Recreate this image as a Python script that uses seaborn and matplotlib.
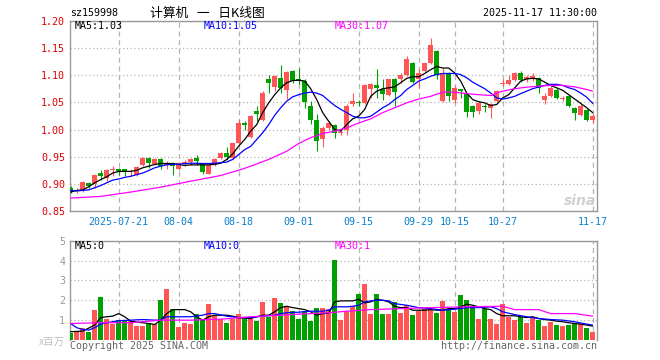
import numpy as np
import pandas as pd
import matplotlib
matplotlib.use("Agg")
import matplotlib.pyplot as plt
import seaborn as sns

# daily candles, 2025-07-09 .. 2025-11-17 (88 sessions)
opens = [0.893, 0.887, 0.888, 0.901, 0.899, 0.920, 0.910, 0.925, 0.927, 0.927,
         0.921, 0.917, 0.934, 0.948, 0.937, 0.945, 0.934, 0.939, 0.928, 0.939,
         0.940, 0.947, 0.936, 0.919, 0.934, 0.947, 0.956, 0.947, 0.976, 1.012,
         0.987, 1.034, 1.018, 1.092, 1.078, 1.095, 1.0735, 1.107, 1.092, 1.090,
         1.043, 1.018, 0.982, 1.003, 1.009, 0.994, 1.000, 1.046, 1.050, 1.049,
         1.075, 1.081, 1.074, 1.063, 1.093, 1.092, 1.101, 1.123, 1.092, 1.107,
         1.123, 1.144, 1.052, 1.104, 1.055, 1.074, 1.066, 1.043, 1.034, 1.044,
         1.040, 1.052, 1.083, 1.083, 1.091, 1.104, 1.092, 1.092, 1.095, 1.054,
         1.0625, 1.0735, 1.0555, 1.0625, 1.040, 1.026, 1.0355, 1.018]
highs = [0.896, 0.892, 0.905, 0.904, 0.919, 0.926, 0.928, 0.933, 0.929, 0.928,
         0.928, 0.933, 0.950, 0.950, 0.948, 0.947, 0.943, 0.941, 0.940, 0.944,
         0.948, 0.953, 0.938, 0.936, 0.947, 0.958, 0.968, 0.977, 1.020, 1.016,
         1.027, 1.043, 1.070, 1.101, 1.101, 1.118, 1.107, 1.110, 1.113, 1.092,
         1.052, 1.028, 1.006, 1.015, 1.011, 1.000, 1.047, 1.067, 1.054, 1.083,
         1.086, 1.112, 1.092, 1.093, 1.095, 1.104, 1.136, 1.125, 1.112, 1.124,
         1.1685, 1.147, 1.113, 1.106, 1.080, 1.075, 1.068, 1.045, 1.052, 1.046,
         1.048, 1.072, 1.092, 1.101, 1.106, 1.107, 1.101, 1.104, 1.097, 1.067,
         1.080, 1.076, 1.061, 1.064, 1.042, 1.046, 1.037, 1.0276]
lows = [0.884, 0.883, 0.885, 0.893, 0.893, 0.908, 0.906, 0.915, 0.917, 0.914,
        0.915, 0.915, 0.932, 0.930, 0.934, 0.928, 0.927, 0.917, 0.926, 0.933,
        0.935, 0.935, 0.918, 0.918, 0.932, 0.945, 0.944, 0.945, 0.974, 1.000,
        0.984, 1.015, 1.015, 1.067, 1.070, 1.067, 1.056, 1.085, 1.083, 1.040,
        1.010, 0.960, 0.967, 0.999, 0.985, 0.990, 0.990, 1.044, 1.044, 1.047,
        1.058, 1.058, 1.055, 1.061, 1.043, 1.086, 1.099, 1.086, 1.076, 1.105,
        1.120, 1.092, 1.050, 1.052, 1.049, 1.058, 1.023, 1.023, 1.028, 1.032,
        1.0215, 1.050, 1.080, 1.081, 1.089, 1.087, 1.087, 1.089, 1.067, 1.046,
        1.060, 1.056, 1.0515, 1.041, 1.018, 1.024, 1.016, 1.012]
closes = [0.887, 0.889, 0.903, 0.896, 0.917, 0.915, 0.926, 0.926, 0.924, 0.921,
          0.922, 0.931, 0.948, 0.939, 0.946, 0.932, 0.937, 0.932, 0.9375, 0.941,
          0.946, 0.943, 0.921, 0.934, 0.945, 0.956, 0.949, 0.975, 1.012, 1.008,
          1.024, 1.029, 1.067, 1.085, 1.099, 1.077, 1.105, 1.089, 1.089, 1.050,
          1.018, 0.979, 1.003, 1.012, 0.994, 0.996, 1.044, 1.052, 1.048, 1.081,
          1.083, 1.077, 1.065, 1.092, 1.069, 1.101, 1.129, 1.087, 1.104, 1.123,
          1.156, 1.101, 1.104, 1.061, 1.077, 1.071, 1.032, 1.032, 1.049, 1.042,
          1.046, 1.070, 1.086, 1.0906, 1.104, 1.091, 1.096, 1.099, 1.077, 1.0625,
          1.077, 1.058, 1.0565, 1.043, 1.031, 1.044, 1.017, 1.024]
volumes = [0.37, 0.42, 0.62, 0.40, 1.50, 2.15, 1.05, 0.83, 1.00, 1.00,
           0.95, 0.70, 0.70, 0.88, 0.83, 2.00, 2.55, 1.57, 0.67, 0.88,
           0.80, 1.30, 1.08, 1.83, 1.25, 1.05, 0.87, 1.08, 1.30, 1.05,
           1.05, 0.97, 1.90, 1.17, 2.12, 1.85, 1.70, 1.45, 1.08, 1.45,
           0.97, 1.60, 1.60, 1.58, 4.05, 1.03, 1.45, 1.70, 2.30, 2.80,
           1.30, 2.30, 1.30, 1.30, 1.90, 1.35, 1.78, 1.25, 1.45, 1.57,
           1.50, 1.35, 1.97, 1.58, 1.40, 2.25, 2.00, 1.70, 1.05, 1.55,
           1.05, 0.80, 1.80, 1.17, 1.00, 1.17, 0.87, 1.17, 1.00, 0.72,
           0.92, 0.75, 0.72, 0.77, 0.83, 0.80, 0.62, 0.42]

# moving averages as drawn on the chart
ma5 = [0.885, 0.888, 0.889, 0.8947, 0.902, 0.908, 0.913, 0.920, 0.923, 0.923,
       0.923, 0.925, 0.9296, 0.9326, 0.9357, 0.9375, 0.9375, 0.9375, 0.9357, 0.934,
       0.935, 0.935, 0.935, 0.935, 0.936, 0.938, 0.945, 0.955, 0.9695, 0.9816,
       0.997, 1.009, 1.031, 1.049, 1.064, 1.0766, 1.086, 1.090, 1.0906, 1.089,
       1.075, 1.055, 1.031, 1.015, 1.000, 0.997, 1.009, 1.0196, 1.0245, 1.037,
       1.061, 1.0705, 1.075, 1.0766, 1.0784, 1.086, 1.094, 1.097, 1.097, 1.103,
       1.110, 1.116, 1.113, 1.113, 1.104, 1.089, 1.067, 1.055, 1.051, 1.049,
       1.044, 1.046, 1.058, 1.064, 1.0766, 1.089, 1.093, 1.094, 1.093, 1.087,
       1.081, 1.0766, 1.072, 1.064, 1.056, 1.048, 1.040, 1.031]
ma10 = [0.888, 0.887, 0.888, 0.889, 0.893, 0.897, 0.902, 0.907, 0.909, 0.912,
        0.914, 0.917, 0.920, 0.9246, 0.9296, 0.9326, 0.935, 0.936, 0.936, 0.9375,
        0.938, 0.938, 0.9375, 0.9375, 0.938, 0.939, 0.940, 0.945, 0.954, 0.963,
        0.969, 0.9816, 0.994, 1.009, 1.026, 1.040, 1.052, 1.060, 1.064, 1.067,
        1.0686, 1.067, 1.0625, 1.053, 1.044, 1.037, 1.031, 1.0245, 1.0215, 1.0215,
        1.0245, 1.032, 1.040, 1.046, 1.055, 1.0625, 1.0735, 1.081, 1.089, 1.093,
        1.098, 1.101, 1.103, 1.103, 1.103, 1.101, 1.095, 1.087, 1.081, 1.075,
        1.067, 1.058, 1.056, 1.058, 1.061, 1.066, 1.0705, 1.075, 1.078, 1.081,
        1.083, 1.083, 1.081, 1.0766, 1.0735, 1.067, 1.0594, 1.048]
ma30_idx = [0, 5, 10, 15, 20, 25, 28, 30, 33, 36, 38, 40, 42, 44, 46, 48, 50, 52,
            54, 56, 58, 60, 62, 64, 66, 68, 70, 72, 74, 76, 78, 80, 82, 84, 86, 87]
ma30 = [0.874, 0.877, 0.885, 0.894, 0.905, 0.9154, 0.925, 0.9326, 0.945, 0.960,
        0.9743, 0.985, 0.9926, 0.997, 1.003, 1.012, 1.0196, 1.031, 1.040, 1.049,
        1.056, 1.061, 1.0686, 1.0686, 1.066, 1.064, 1.0625, 1.0705, 1.075, 1.0778,
        1.0797, 1.081, 1.081, 1.0784, 1.0735, 1.0705]

vma5 = [0.42, 0.43, 0.45, 0.60, 0.75, 1.13, 1.17, 1.20, 1.33, 1.17,
        0.95, 0.90, 0.87, 0.83, 0.78, 1.00, 1.33, 1.53, 1.53, 1.53,
        1.42, 1.17, 1.00, 1.17, 1.25, 1.25, 1.25, 1.20, 1.12, 1.10,
        1.08, 1.17, 1.25, 1.25, 1.42, 1.63, 1.70, 1.63, 1.58, 1.53,
        1.42, 1.25, 1.33, 1.35, 1.92, 1.97, 1.97, 1.97, 2.05, 1.87,
        1.92, 2.05, 2.00, 1.92, 1.70, 1.63, 1.63, 1.50, 1.50, 1.50,
        1.53, 1.50, 1.50, 1.58, 1.58, 1.67, 1.80, 1.75, 1.67, 1.58,
        1.53, 1.33, 1.22, 1.22, 1.22, 1.17, 1.13, 1.17, 1.08, 1.03,
        1.00, 0.95, 0.92, 0.87, 0.83, 0.80, 0.75, 0.70]
vma10_idx = [0, 1, 2, 3, 4, 5, 6, 8, 10, 12, 14, 15, 16, 18, 20, 22, 23, 24, 26,
             28, 30, 32, 34, 35, 36, 38, 40, 42, 43, 44, 46, 47, 48, 49, 50, 51,
             52, 53, 54, 56, 58, 60, 62, 64, 66, 68, 70, 71, 72, 74, 76, 78, 80,
             82, 84, 86, 87]
vma10 = [0.83, 0.62, 0.53, 0.50, 0.62, 0.80, 0.87, 0.97, 1.00, 1.03, 1.00, 1.00,
         1.17, 1.17, 1.17, 1.25, 1.33, 1.33, 1.20, 1.13, 1.13, 1.20, 1.25, 1.33,
         1.37, 1.40, 1.45, 1.45, 1.50, 1.67, 1.67, 1.70, 1.75, 1.92, 1.97, 2.00,
         2.00, 1.97, 1.83, 1.75, 1.63, 1.58, 1.50, 1.55, 1.63, 1.63, 1.67, 1.58,
         1.42, 1.28, 1.17, 1.08, 1.03, 1.00, 0.92, 0.80, 0.75]
vma30_idx = [0, 5, 10, 15, 20, 25, 30, 35, 40, 43, 46, 50, 55, 60, 66, 72, 74,
             78, 80, 84, 87]
vma30 = [0.83, 0.87, 0.87, 1.00, 1.00, 1.05, 1.17, 1.25, 1.33, 1.37, 1.45, 1.53,
         1.58, 1.63, 1.67, 1.70, 1.53, 1.53, 1.33, 1.33, 1.20]

tick_idx = [8, 18, 28, 38, 48, 58, 64, 72, 87]
tick_labels = ["2025-07-21", "08-04", "08-18", "09-01", "09-15",
               "09-29", "10-15", "10-27", "11-17"]
price_ticks = [0.85, 0.90, 0.95, 1.00, 1.05, 1.10, 1.15, 1.20]
vol_ticks = [1, 2, 3, 4, 5]

RED = "#ff5555"
GREEN = "#00a000"
GRID = "#b4b4b4"
MONO = ["DejaVu Sans Mono"]
CJK = ["Noto Sans CJK SC", "DejaVu Sans"]

sns.set_style("white")
plt.rcParams["font.family"] = MONO

W, H = 660, 360
fig = plt.figure(figsize=(W / 100, H / 100), dpi=100)

def fx(x):
    return x / W

def fy(y):
    return 1 - y / H

ax = fig.add_axes([fx(70), fy(211.1), (597.3 - 70) / W, (211.1 - 20.7) / H])
axv = fig.add_axes([fx(70), fy(340), (597.3 - 70) / W, (340 - 240.7) / H])

x = np.arange(len(closes))
o, hi, lo, c = map(np.array, (opens, highs, lows, closes))
cols = np.where(c >= o, RED, GREEN)

# candles
ax.vlines(x, lo, hi, colors=cols, linewidth=0.8, zorder=3)
ax.bar(x, np.maximum(np.abs(c - o), 0.0016), bottom=np.minimum(o, c),
       width=0.78, color=cols, linewidth=0, zorder=4)

df = pd.DataFrame({"i": x, "ma5": ma5, "ma10": ma10})
sns.lineplot(data=df, x="i", y="ma5", ax=ax, color="black", linewidth=0.9, zorder=5)
sns.lineplot(data=df, x="i", y="ma10", ax=ax, color="#0000ff", linewidth=0.9, zorder=5)
sns.lineplot(x=ma30_idx, y=ma30, ax=ax, color="#ff00ff", linewidth=0.9, zorder=5)

# volume
axv.bar(x, volumes, width=0.82, color=cols, linewidth=0, zorder=3)
vdf = pd.DataFrame({"i": x, "vma5": vma5})
sns.lineplot(data=vdf, x="i", y="vma5", ax=axv, color="black", linewidth=0.9, zorder=5)
sns.lineplot(x=vma10_idx, y=vma10, ax=axv, color="#0000ff", linewidth=0.9, zorder=5)
sns.lineplot(x=vma30_idx, y=vma30, ax=axv, color="#ff00ff", linewidth=0.9, zorder=5)

xlim = ((70 - 70.7) / 6, (597.3 - 70.7) / 6)
for a in (ax, axv):
    a.set_xlim(*xlim)
    a.set_xlabel("")
    a.set_ylabel("")
    a.set_xticks(tick_idx)
    a.tick_params(length=0)
    a.xaxis.grid(True, color=GRID, linestyle=(0, (4, 3)), linewidth=0.9)
    a.yaxis.grid(True, color=GRID, linestyle=(0, (1, 2)), linewidth=0.9)
    a.set_axisbelow(True)
    for s in a.spines.values():
        s.set_color("#999999")
        s.set_linewidth(1.0)

ax.set_ylim(0.85, 1.20)
ax.set_yticks(price_ticks)
ax.set_yticklabels([f"{p:.2f}" for p in price_ticks], color="#e00000", fontsize=7.2)
ax.set_xticklabels(tick_labels, color="#0a80cc", fontsize=7.2)
ax.tick_params(axis="y", pad=3.5)
ax.tick_params(axis="x", pad=4)

axv.set_ylim(0, 5)
axv.set_yticks(vol_ticks)
axv.set_yticklabels([str(v) for v in vol_ticks], color="#999999", fontsize=7.2)
axv.set_xticklabels([])
axv.tick_params(axis="y", pad=3.5)
axv.spines["bottom"].set_visible(False)

# header
fig.text(fx(70), fy(13.5), "sz159998", fontsize=7.2, color="black", va="center")
fig.text(fx(207), fy(13.5), "计算机   一   日K线图", fontsize=9.2, family=CJK,
         color="black", ha="center", va="center")
fig.text(fx(597), fy(13.5), "2025-11-17 11:30:00", fontsize=7.2,
         color="black", ha="right", va="center")

# moving-average legends
for yy, vals in ((26, ("1.03", "1.05", "1.07")), (246, ("0", "0", "1"))):
    fig.text(fx(75), fy(yy), f"MA5:{vals[0]}", fontsize=7.2, color="black", va="center")
    fig.text(fx(204), fy(yy), f"MA10:{vals[1]}", fontsize=7.2, color="#0000ff", va="center")
    fig.text(fx(335), fy(yy), f"MA30:{vals[2]}", fontsize=7.2, color="#ff00ff", va="center")

# watermark and footer
fig.text(fx(596), fy(201), "sina", fontsize=10, color="#d0d0d0", style="italic",
         weight="bold", family=["DejaVu Sans"], ha="right", va="center")
fig.text(fx(65), fy(341.5), "x百万", fontsize=7.5, family=CJK, color="#c0c0c0",
         ha="right", va="center")
fig.text(fx(70), fy(346), "Copyright 2025 SINA.COM", fontsize=7.2, color="#666666",
         va="center")
fig.text(fx(597), fy(346), "http://finance.sina.com.cn", fontsize=7.2,
         color="#666666", ha="right", va="center")

fig.savefig("out.png", dpi=100)
